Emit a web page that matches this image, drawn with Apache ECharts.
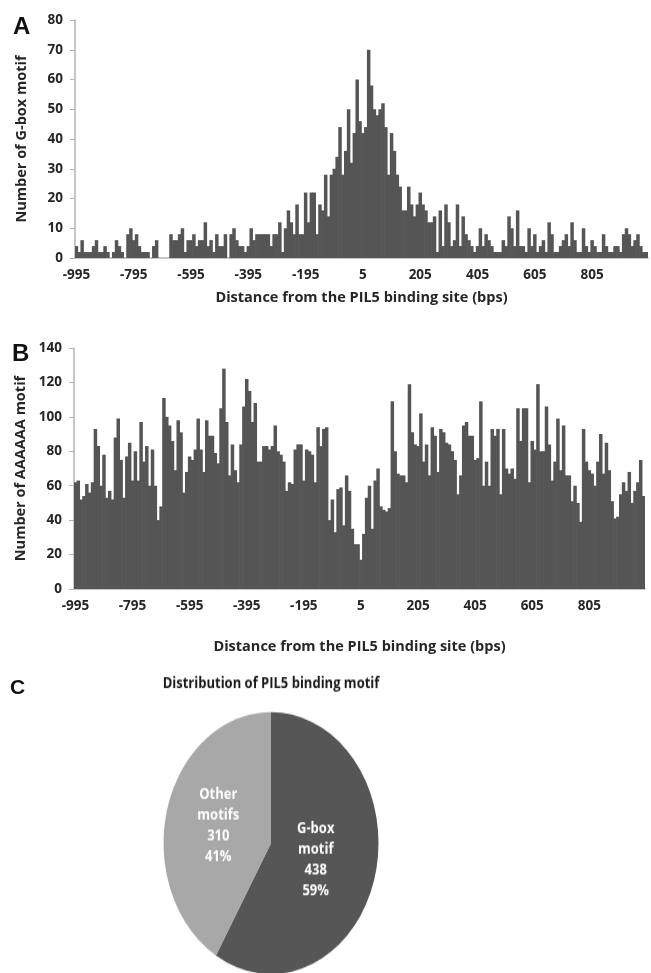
<!DOCTYPE html>
<html>
<head>
<meta charset="utf-8">
<script src="https://cdn.jsdelivr.net/npm/echarts@6/dist/echarts.min.js"></script>
<style>
  html, body { margin: 0; padding: 0; background: #fff; }
  #main { position: absolute; left: 0; top: 0; width: 651px; height: 973px; }
  /* the pie in the figure is an upright ellipse, so stretch its box */
  #pie { position: absolute; left: 0; top: 660px; width: 651px; height: 257px;
         transform-origin: 0 0; transform: scaleY(1.2186); }
</style>
</head>
<body>
<div id="main"></div>
<div id="pie"></div>
<script>
// ── DATA ───────────────────────────────────────────
// bins of 10 bp, -995 .. 995
const distances = [];
for (let d = -995; d <= 995; d += 10) distances.push(String(d));

const gboxCounts = [
  4, 2, 6, 2, 2, 2, 4, 6, 2, 2,
  4, 2, 0, 2, 6, 4, 2, 0, 8, 10,
  6, 8, 4, 2, 2, 2, 0, 4, 6, 0,
  0, 0, 0, 8, 6, 6, 8, 10, 2, 6,
  6, 8, 4, 6, 6, 12, 4, 6, 2, 8,
  4, 4, 8, 0, 8, 10, 6, 4, 4, 2,
  4, 10, 6, 8, 8, 8, 8, 8, 4, 8,
  8, 12, 2, 10, 16, 12, 8, 18, 8, 8,
  22, 12, 22, 22, 8, 18, 16, 28, 14, 28,
  30, 34, 44, 28, 36, 50, 32, 42, 60, 46,
  42, 44, 70, 58, 50, 48, 50, 52, 44, 28,
  42, 36, 28, 24, 16, 16, 24, 18, 14, 18,
  22, 18, 16, 12, 12, 14, 2, 16, 4, 18,
  12, 4, 6, 18, 4, 14, 8, 6, 4, 2,
  4, 10, 4, 8, 6, 4, 2, 2, 2, 6,
  4, 14, 10, 4, 16, 4, 4, 2, 10, 4,
  8, 2, 4, 6, 2, 12, 8, 2, 2, 4,
  6, 8, 4, 12, 6, 2, 2, 10, 4, 2,
  6, 4, 2, 2, 8, 4, 2, 2, 4, 4,
  2, 8, 10, 8, 4, 6, 8, 4, 2, 2
];

const aaaaaaCounts = [
  62, 63, 52, 54, 61, 56, 62, 93, 83, 60,
  78, 53, 57, 52, 88, 99, 75, 53, 77, 85,
  63, 80, 63, 97, 74, 83, 60, 81, 60, 40,
  48, 111, 100, 95, 86, 69, 98, 91, 56, 68,
  77, 75, 81, 99, 81, 68, 98, 89, 89, 79,
  73, 105, 128, 97, 66, 84, 69, 62, 84, 106,
  122, 115, 97, 108, 74, 74, 83, 83, 81, 83,
  95, 80, 78, 74, 57, 62, 61, 81, 84, 84,
  63, 81, 80, 78, 62, 94, 83, 93, 94, 40,
  52, 33, 58, 59, 37, 66, 57, 35, 26, 26,
  17, 32, 53, 60, 35, 63, 70, 48, 46, 45,
  47, 109, 80, 67, 66, 66, 62, 119, 91, 84,
  83, 102, 74, 84, 66, 94, 89, 68, 93, 91,
  85, 84, 80, 75, 55, 66, 95, 97, 89, 89,
  75, 76, 109, 60, 74, 60, 93, 89, 93, 55,
  93, 70, 67, 70, 64, 105, 86, 105, 105, 62,
  86, 81, 119, 80, 80, 106, 84, 63, 74, 99,
  69, 95, 66, 66, 51, 60, 50, 39, 93, 74,
  69, 67, 60, 74, 90, 67, 85, 69, 51, 41,
  42, 55, 62, 57, 68, 50, 57, 62, 75, 54
];

const motifNames  = ['G-box\nmotif', 'Other\nmotifs'];
const motifCounts = [438, 310];

// ── STYLE ──────────────────────────────────────────
const FONT = '"Open Sans", "DejaVu Sans", sans-serif';
const TXT = '#262626';
const AXIS = '#b4b4b4';
const BAR = '#555555';

function xAxisFor(gridIndex, nameGap) {
  return {
    type: 'category', gridIndex, data: distances,
    name: 'Distance from the PIL5 binding site (bps)',
    nameLocation: 'middle', nameGap,
    nameTextStyle: { fontFamily: FONT, fontWeight: 'bold', fontSize: 14.5, color: TXT },
    axisLine: { show: true, lineStyle: { color: AXIS, width: 1.5 } },
    axisTick: { show: false },
    axisLabel: { interval: 19, margin: 10, fontFamily: FONT, fontWeight: 'bold', fontSize: 13.5, color: TXT },
    splitLine: { show: false },
  };
}

function yAxisFor(gridIndex, name, max, interval) {
  return {
    type: 'value', gridIndex, min: 0, max, interval,
    name, nameLocation: 'middle', nameGap: 46,
    nameTextStyle: { fontFamily: FONT, fontWeight: 'bold', fontSize: 14.5, color: TXT },
    axisLine: { show: true, lineStyle: { color: AXIS, width: 1.5 } },
    axisTick: { show: true, length: 5, lineStyle: { color: AXIS } },
    axisLabel: { margin: 12, fontFamily: FONT, fontWeight: 'bold', fontSize: 13.5, color: TXT },
    splitLine: { show: false },
  };
}

function barSeries(idx, data) {
  return {
    type: 'bar', xAxisIndex: idx, yAxisIndex: idx, data,
    // a touch wider than the 2.86px band so neighbouring bars butt together
    barWidth: 3.5,
    itemStyle: { color: BAR },
    emphasis: { disabled: true },
  };
}

function letter(text, x, y, size) {
  return {
    type: 'text', x, y,
    style: { text, font: `bold ${size}px "Liberation Sans", Arial, sans-serif`, fill: '#111' },
  };
}

// ── BAR PANELS ─────────────────────────────────────
const main = echarts.init(document.getElementById('main'), null, { renderer: 'canvas' });
main.setOption({
  animation: false,
  backgroundColor: '#fff',
  grid: [
    { left: 75, top: 20, width: 573, height: 238 },
    { left: 74, top: 348, width: 571, height: 241 },
  ],
  xAxis: [xAxisFor(0, 32), xAxisFor(1, 50)],
  yAxis: [
    yAxisFor(0, 'Number of G-box motif', 80, 10),
    yAxisFor(1, 'Number of AAAAAA motif', 140, 20),
  ],
  series: [barSeries(0, gboxCounts), barSeries(1, aaaaaaCounts)],
  graphic: [
    letter('A', 13, 15, 24),
    letter('B', 12, 342, 24),
    letter('C', 10, 678, 21),
  ],
});

// ── PIE PANEL ──────────────────────────────────────
const pie = echarts.init(document.getElementById('pie'), null, { renderer: 'canvas' });
pie.setOption({
  animation: false,
  graphic: [{
    type: 'text', x: 271, y: 19,
    style: {
      text: 'Distribution of PIL5 binding motif', align: 'center', verticalAlign: 'middle',
      font: `bold 13px ${FONT}`, fill: '#1a1a1a',
    },
  }],
  series: [{
    type: 'pie', center: [271, 150.2], radius: 107.5,
    startAngle: 90, clockwise: true, percentPrecision: 0,
    data: motifNames.map((n, i) => ({
      name: n, value: motifCounts[i],
      itemStyle: { color: i === 0 ? '#565656' : '#a8a8a8' },
    })),
    label: {
      position: 'inside', formatter: '{b}\n{c}\n{d}%',
      fontFamily: FONT, fontWeight: 'bold', fontSize: 13, lineHeight: 17, color: '#fff',
    },
    labelLayout: p => (p.dataIndex === 0 ? { dx: -10, dy: -1 } : { dx: 2, dy: 0.5 }),
    labelLine: { show: false },
    emphasis: { disabled: true },
  }],
});
</script>
</body>
</html>
